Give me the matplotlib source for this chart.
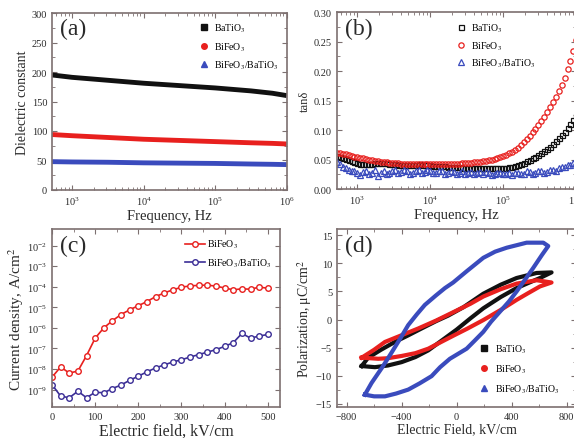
import numpy as np
import matplotlib
matplotlib.use('Agg')
import matplotlib.pyplot as plt
from matplotlib.ticker import MultipleLocator, LogLocator, NullFormatter

plt.rcParams['font.family'] = ['Liberation Serif', 'DejaVu Serif']
plt.rcParams['mathtext.fontset'] = 'stix'

# ---- data ----
labBT = 'BaTiO$_3$'
labBF = 'BiFeO$_3$'
labBB = 'BiFeO$_3$/BaTiO$_3$'

# (a) dielectric constant vs log10(frequency)
logfA = [2.72, 3.0, 3.5, 4.0, 4.5, 5.0, 5.5, 5.8, 6.0]
epsBT = [195, 191, 186, 181, 177, 173, 168, 164, 160]
epsBF = [94, 92, 89, 86, 84, 82, 80, 79, 78]
epsBB = [48, 47.5, 47, 46, 45.5, 45, 44, 43.5, 43]

# (b) loss tangent vs log10(frequency)
logfB = [2.72, 2.76, 2.80, 2.84, 2.88, 2.92, 2.96, 3.00, 3.04, 3.08,
         3.12, 3.16, 3.20, 3.24, 3.28, 3.32, 3.36, 3.40, 3.44, 3.48,
         3.52, 3.56, 3.60, 3.64, 3.68, 3.72, 3.76, 3.80, 3.84, 3.88,
         3.92, 3.96, 4.00, 4.04, 4.08, 4.12, 4.16, 4.20, 4.24, 4.28,
         4.32, 4.36, 4.40, 4.44, 4.48, 4.52, 4.56, 4.60, 4.64, 4.68,
         4.72, 4.76, 4.80, 4.84, 4.88, 4.92, 4.96, 5.00, 5.04, 5.08,
         5.12, 5.16, 5.20, 5.24, 5.28, 5.32, 5.36, 5.40, 5.44, 5.48,
         5.52, 5.56, 5.60, 5.64, 5.68, 5.72, 5.76, 5.80, 5.84, 5.88,
         5.92, 5.96, 6.00]
tanBT = [.056, .0545, .053, .0515, .050, .048, .046, .0445, .043, .0425,
         .042, .0425, .043, .0435, .044, .044, .044, .0435, .043, .0425,
         .042, .0415, .041, .041, .041, .041, .041, .0415, .042, .0415,
         .041, .0405, .040, .0395, .039, .039, .039, .0385, .038, .038,
         .038, .0375, .037, .0365, .036, .036, .036, .0355, .035, .035,
         .035, .035, .035, .0355, .036, .036, .036, .036, .036, .037,
         .038, .0395, .041, .043, .045, .0475, .050, .0525, .055, .058,
         .061, .0645, .068, .072, .076, .081, .086, .0915, .097, .1035,
         .110, .117, .124]
tanBF = [.062, .061, .060, .059, .058, .0565, .055, .054, .053, .052,
         .051, .050, .049, .048, .047, .0465, .046, .0455, .045, .0445,
         .044, .0435, .043, .043, .043, .0425, .042, .042, .042, .042,
         .042, .042, .042, .042, .042, .042, .042, .042, .042, .042,
         .043, .043, .043, .0435, .044, .0445, .045, .0455, .046, .0465,
         .047, .048, .049, .050, .051, .0525, .054, .056, .058, .0605,
         .063, .0665, .070, .0745, .079, .0845, .090, .096, .102, .1085,
         .115, .1225, .130, .1385, .147, .1565, .166, .177, .188, .203,
         .218, .235, .252]
tanBB = [.046, .042, .038, .036, .033, .031, .030, .027, .024, .029,
         .031, .025, .027, .033, .022, .028, .030, .026, .028, .031,
         .033, .027, .029, .032, .031, .026, .027, .030, .032, .028,
         .029, .033, .031, .027, .028, .030, .030, .026, .027, .031,
         .029, .026, .028, .030, .026, .028, .029, .025, .027, .029,
         .026, .029, .028, .024, .025, .028, .027, .025, .026, .028,
         .024, .027, .028, .025, .026, .030, .029, .026, .027, .030,
         .031, .028, .029, .032, .033, .031, .035, .037, .038, .040,
         .041, .044, .046]

# (c) leakage current, log10(J) vs field
fieldC = [0, 20, 40, 60, 80, 100, 120, 140, 160, 180, 200, 220, 240,
          260, 280, 300, 320, 340, 360, 380, 400, 420, 440, 460, 480, 500]
logJBF = [-8.4, -7.9, -8.2, -8.1, -7.35, -6.5, -6.0, -5.65, -5.35, -5.12, -4.92, -4.72, -4.48,
          -4.3, -4.15, -4.02, -3.96, -3.93, -3.92, -3.97, -4.06, -4.15, -4.1, -4.12, -4.02, -4.07]
logJBB = [-8.76, -9.32, -9.4, -9.08, -9.4, -9.13, -9.16, -8.95, -8.78, -8.55, -8.35, -8.14, -7.95,
          -7.8, -7.66, -7.55, -7.42, -7.3, -7.18, -7.06, -6.9, -6.72, -6.27, -6.5, -6.4, -6.32]

# (d) P-E loops (closed paths: rising branch then falling branch)
eBT = [-690, -643, -550, -449, -350, -255, -150, -61, 50, 194, 320, 436, 582, 690,
       606, 520, 436, 320, 194, 100, 0, -100, -206, -300, -400, -500, -594, -690]
pBT = [-8.3, -6.8, -5.4, -4.0, -2.8, -1.6, -0.3, 0.7, 2.2, 4.6, 6.2, 7.4, 8.3, 8.4,
       7.4, 6.5, 5.6, 4.0, 2.0, 0.2, -1.8, -3.6, -5.5, -6.7, -7.6, -8.2, -8.5, -8.3]
eBF = [-690, -600, -521, -400, -279, -150, -25, 100, 194, 320, 436, 582, 690,
       606, 520, 436, 320, 194, 80, -25, -120, -206, -300, -400, -500, -570, -690]
pBF = [-6.8, -5.4, -4.0, -2.8, -1.6, -0.2, 1.3, 2.8, 4.1, 5.4, 6.4, 7.0, 6.6,
       5.9, 4.7, 3.5, 1.7, -0.1, -1.6, -2.9, -4.1, -5.2, -6.0, -6.5, -6.9, -7.0, -6.8]
eBB = [-667, -618, -540, -473, -410, -352, -290, -231, -150, -85, -25, 73, 194, 280, 364, 509, 630, 666,
       620, 557, 500, 436, 380, 315, 250, 194, 130, 73, -49, -120, -182, -270, -352, -440, -521, -600, -667]
pBB = [-13.4, -11.3, -8.5, -5.9, -3.4, -1.0, 0.9, 2.6, 4.3, 5.6, 6.6, 8.6, 11.0, 12.1, 12.8, 13.7, 13.7, 13.1,
       11.5, 9.2, 7.2, 5.0, 3.2, 1.4, -0.4, -2.2, -3.8, -5.2, -7.0, -8.5, -10.1, -11.4, -12.5, -13.2, -13.7, -13.7, -13.4]

cBlack = '#111111'
cRed = '#e8201e'
cBlue = '#3a4bbd'
cPurple = '#3b2e96'
cSpine = '#7d7070'
cText = '#2a2a2a'


def styleAxes(ax):
    for s in ax.spines.values():
        s.set_color(cSpine)
        s.set_linewidth(1.2)
    ax.tick_params(which='both', direction='in', top=True, right=True,
                   colors=cSpine, labelcolor=cText, labelsize=7.5)
    ax.tick_params(which='major', length=3.5)
    ax.tick_params(which='minor', length=2)


fig = plt.figure(figsize=(5.74, 4.39), dpi=100)
axA = fig.add_axes([0.0906, 0.565, 0.409, 0.403])
axB = fig.add_axes([0.587, 0.567, 0.417, 0.403])
axC = fig.add_axes([0.0906, 0.0706, 0.397, 0.405])
axD = fig.add_axes([0.587, 0.0706, 0.417, 0.405])

# ---- (a) ----
fA = 10 ** np.array(logfA)
axA.plot(fA, epsBT, color=cBlack, lw=3.5, solid_capstyle='butt')
axA.plot(fA, epsBF, color=cRed, lw=3.5, solid_capstyle='butt')
axA.plot(fA, epsBB, color=cBlue, lw=3.5, solid_capstyle='butt')
axA.plot([], [], 's', color=cBlack, ms=4, label=labBT)
axA.plot([], [], 'o', color=cRed, ms=4, label=labBF)
axA.plot([], [], '^', color=cBlue, ms=4, label=labBB)
axA.set_xscale('log')
axA.set_xlim(10 ** 2.72, 10 ** 6.0)
axA.set_ylim(0, 300)
axA.yaxis.set_major_locator(MultipleLocator(50))
axA.yaxis.set_minor_locator(MultipleLocator(25))
axA.xaxis.set_major_locator(LogLocator(base=10, numticks=10))
axA.xaxis.set_minor_locator(LogLocator(base=10, subs=np.arange(2, 10), numticks=10))
axA.xaxis.set_minor_formatter(NullFormatter())
axA.set_xlabel('Frequency, Hz', fontsize=10.5, color=cText, labelpad=1)
axA.set_ylabel('Dielectric constant', fontsize=10, color=cText, labelpad=2)
axA.text(0.035, 0.97, '(a)', transform=axA.transAxes, fontsize=17, va='top', color=cText)
axA.legend(loc='upper right', frameon=False, fontsize=7, handlelength=0.8,
           handletextpad=0.6, labelspacing=0.6, borderaxespad=0.5)
styleAxes(axA)

# ---- (b) ----
fB = 10 ** np.array(logfB)
axB.plot(fB, tanBT, 's', mfc='none', mec=cBlack, ms=3.6, mew=0.9, label=labBT)
axB.plot(fB, tanBF, 'o', mfc='none', mec=cRed, ms=3.8, mew=0.9, label=labBF)
axB.plot(fB, tanBB, '^', mfc='none', mec=cBlue, ms=3.8, mew=0.9, label=labBB)
axB.set_xscale('log')
axB.set_xlim(10 ** 2.72, 10 ** 6.0)
axB.set_ylim(0, 0.30)
axB.yaxis.set_major_locator(MultipleLocator(0.05))
axB.yaxis.set_minor_locator(MultipleLocator(0.025))
axB.yaxis.set_major_formatter(plt.FuncFormatter(lambda v, p: '%.2f' % v))
axB.xaxis.set_major_locator(LogLocator(base=10, numticks=10))
axB.xaxis.set_minor_locator(LogLocator(base=10, subs=np.arange(2, 10), numticks=10))
axB.xaxis.set_minor_formatter(NullFormatter())
axB.set_xlabel('Frequency, Hz', fontsize=10.5, color=cText, labelpad=1)
axB.set_ylabel('tan\u03b4', fontsize=9, color=cText, labelpad=2)
axB.text(0.035, 0.97, '(b)', transform=axB.transAxes, fontsize=17, va='top', color=cText)
axB.legend(loc='upper right', frameon=False, fontsize=7, handlelength=0.8,
           handletextpad=0.6, labelspacing=0.5, borderaxespad=0.6,
           bbox_to_anchor=(0.87, 1.0))
styleAxes(axB)

# ---- (c) ----
jBF = 10 ** np.array(logJBF)
jBB = 10 ** np.array(logJBB)
axC.plot(fieldC, jBF, '-o', color=cRed, mfc='white', mec=cRed, ms=4, mew=1, lw=1.2, label=labBF)
axC.plot(fieldC, jBB, '-o', color=cPurple, mfc='white', mec=cPurple, ms=4, mew=1, lw=1.2, label=labBB)
axC.set_yscale('log')
axC.set_xlim(0, 528)
axC.set_ylim(10 ** -9.85, 10 ** -1.2)
axC.yaxis.set_major_locator(LogLocator(base=10, numticks=12))
axC.yaxis.set_minor_locator(plt.NullLocator())
axC.xaxis.set_major_locator(MultipleLocator(100))
axC.xaxis.set_minor_locator(MultipleLocator(50))
axC.set_xlabel('Electric field, kV/cm', fontsize=11.5, color=cText, labelpad=1)
axC.set_ylabel('Current density, A/cm$^2$', fontsize=11, color=cText, labelpad=1)
axC.text(0.035, 0.97, '(c)', transform=axC.transAxes, fontsize=17, va='top', color=cText)
axC.legend(loc='upper right', frameon=False, fontsize=7, handlelength=2.0,
           handletextpad=0.2, labelspacing=0.6, borderaxespad=0.5)
styleAxes(axC)

# ---- (d) ----
axD.plot(eBT, pBT, color=cBlack, lw=3.0)
axD.plot(eBF, pBF, color=cRed, lw=3.0)
axD.plot(eBB, pBB, color=cBlue, lw=3.0)
axD.plot([], [], 's', color=cBlack, ms=4, label=labBT)
axD.plot([], [], 'o', color=cRed, ms=4, label=labBF)
axD.plot([], [], '^', color=cBlue, ms=4, label=labBB)
axD.set_xlim(-870, 870)
axD.set_ylim(-15.6, 16.1)
axD.xaxis.set_major_locator(MultipleLocator(400))
axD.xaxis.set_minor_locator(MultipleLocator(200))
axD.yaxis.set_major_locator(MultipleLocator(5))
axD.yaxis.set_minor_locator(MultipleLocator(2.5))
axD.set_xlabel('Electric Field, kV/cm', fontsize=10, color=cText, labelpad=1)
axD.set_ylabel('Polarization, \u03bcC/cm$^2$', fontsize=10, color=cText, labelpad=1)
axD.text(0.035, 0.97, '(d)', transform=axD.transAxes, fontsize=17, va='top', color=cText)
axD.legend(loc='lower right', frameon=False, fontsize=7, handlelength=0.8,
           handletextpad=0.8, labelspacing=0.8, borderaxespad=0.8,
           bbox_to_anchor=(0.98, 0.0))
styleAxes(axD)

fig.savefig('out.png', dpi=100)
